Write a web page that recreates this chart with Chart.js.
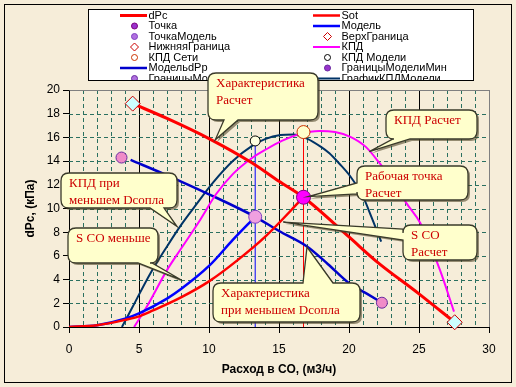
<!DOCTYPE html>
<html>
<head>
<meta charset="utf-8">
<script src="https://cdn.jsdelivr.net/npm/chart.js@4/dist/chart.umd.min.js"></script>
<style>
  html, body { margin: 0; padding: 0; background: #F6EDD9; }
  canvas { display: block; }
</style>
</head>
<body>
<canvas id="myChart" width="516" height="387"></canvas>
<script>
'use strict';

// dane
var dpcX = [4.55, 7, 10, 13, 15, 16.75, 20, 22, 25, 27.55];
var dpcY = [18.85, 17.6, 15.9, 13.9, 12.3, 10.95, 7.6, 5.5, 2.8, 0.4];

var sotX = [0, 2, 4, 5, 6, 8, 10, 12, 14, 16.75];
var sotY = [0, 0.15, 0.6, 0.9, 1.4, 2.5, 3.85, 5.6, 7.6, 10.95];

var modelX = [0, 2, 4, 5, 7, 8, 10, 11.7, 13.3];
var modelY = [0, 0.15, 0.7, 1.15, 2.4, 3.2, 5.15, 7.35, 9.3];

var modelDpX = [4.4, 7, 10, 13.3, 15, 17, 18.5, 20, 21.3, 22.35];
var modelDpY = [14.1, 12.8, 11.2, 9.3, 8.1, 6.8, 5.3, 3.7, 2.8, 2.05];

var kpdX = [4.65, 5.5, 7, 8, 9.4, 10.5, 11.7, 13, 14.1, 15.2, 16.5, 17.9, 19, 20.1, 21.2, 22.2, 23.2, 24.1, 25.1, 26.5, 27.5];
var kpdY = [0, 1.6, 4.8, 6.6, 9.1, 11.2, 12.9, 14.2, 15.0, 15.7, 16.3, 16.55, 16.45, 16.05, 15.2, 13.8, 12.2, 10.45, 8.75, 4.8, 1.3];

var kpdModelX = [3.78, 4.5, 5.8, 7, 8, 9, 10.3, 11.7, 13.1, 14, 15.1, 16, 17, 18, 18.6, 19.3, 20.1, 21, 21.6, 22.3];
var kpdModelY = [0, 1.6, 4.5, 6.8, 8.6, 10.2, 12.2, 14.0, 15.3, 15.85, 16.2, 16.25, 15.9, 15.2, 14.66, 13.8, 12.7, 11.0, 9.3, 7.2];

// punkty
var pointWork = [16.75, 10.95];
var pointModel = [13.3, 9.3];
var upperBound = [4.55, 18.85];
var lowerBound = [27.55, 0.4];
var kpdNet = [16.75, 16.45];
var kpdModelPoint = [13.3, 15.7];
var modelBoundMin = [3.75, 14.3];
var modelBoundMax = [22.35, 2.05];

// pionowe linie
var dropNetY = [0, 16.45];
var dropModelY = [0, 15.7];

var xTicks = [0, 5, 10, 15, 20, 25, 30];
var yTicks = [0, 2, 4, 6, 8, 10, 12, 14, 16, 18, 20];

// dymki z opisami
var callouts = [
  { lines: ['Характеристика', 'Расчет'], box: [208, 73, 318, 120], side: 'bottom', base: [224, 238], tip: [10.45, 15.8] },
  { lines: ['КПД Расчет'], box: [386, 110, 477, 139], side: 'bottom', base: [393, 410], tip: [21.45, 14.8] },
  { lines: ['Рабочая точка', 'Расчет'], box: [357, 166, 468, 200], side: 'left', base: [183, 194], tip: [17.1, 11.0] },
  { lines: ['S CO', 'Расчет'], box: [403, 225, 477, 260], side: 'left', base: [229, 240], tip: [15.3, 8.85] },
  { lines: ['КПД при', 'меньшем Dсопла'], box: [61, 173, 177, 208], side: 'bottom', base: [150, 164], tip: [7.7, 8.5] },
  { lines: ['S CO меньше'], box: [68, 228, 158, 263], side: 'bottom', base: [138, 152], tip: [8.05, 3.95] },
  { lines: ['Характеристика', 'при меньшем Dсопла'], box: [213, 283, 360, 322], side: 'top', base: [303, 333], tip: [17.0, 6.75] }
];

function xy(xs, ys) {
  return xs.map(function(x, i) { return { x: x, y: ys[i] }; });
}

function lineSet(label, xs, ys, color, width) {
  return {
    label: label, inLegend: true, showLine: true,
    data: xy(xs, ys),
    borderColor: color, backgroundColor: color, borderWidth: width,
    pointRadius: 0, cubicInterpolationMode: 'monotone', order: 2
  };
}
function pointSet(label, p, style, fill, edge, radius, legendFill) {
  return {
    label: label, inLegend: true, showLine: false, legendFill: legendFill,
    data: [{ x: p[0], y: p[1] }],
    pointStyle: style, pointRadius: radius, pointBackgroundColor: fill,
    pointBorderColor: edge, pointBorderWidth: 1,
    backgroundColor: fill, borderColor: edge,
    clip: false, order: 0
  };
}

var datasets = [
  lineSet('dPc', dpcX, dpcY, '#FF0000', 3),
  lineSet('Sot', sotX, sotY, '#FF0000', 2.5),
  pointSet('Точка', pointWork, 'circle', '#FF00FF', '#800080', 7, '#9933CC'),
  lineSet('Модель', modelX, modelY, '#0000FF', 2.5),
  pointSet('ТочкаМодель', pointModel, 'circle', '#F0A0E0', '#8040C0', 6.5, '#B070E0'),
  pointSet('ВерхГраница', upperBound, 'rectRot', '#CCFFFF', '#CC0000', 7.5, '#FFFFFF'),
  pointSet('НижняяГраница', lowerBound, 'rectRot', '#CCFFFF', '#CC0000', 7.5, '#FFFFFF'),
  lineSet('КПД', kpdX, kpdY, '#FF00FF', 2),
  pointSet('КПД Сети', kpdNet, 'circle', '#FFFFCC', '#CC3300', 6.5, '#FFFFFF'),
  pointSet('КПД Модели', kpdModelPoint, 'circle', '#FFFFE0', '#000000', 5, '#FFFFFF'),
  lineSet('МодельdPp', modelDpX, modelDpY, '#0000CC', 2.5),
  pointSet('ГраницыМоделиМин', modelBoundMin, 'circle', '#F08CC8', '#6A2CA0', 5.5, '#9933CC'),
  pointSet('ГраницыМоделиМакс', modelBoundMax, 'circle', '#F08CC8', '#6A2CA0', 5.5, '#B070E0'),
  lineSet('ГрафикКПДМодели', kpdModelX, kpdModelY, '#003366', 2)
];
// cienkie pionowe linie (bez legendy)
datasets.push({ label: 'dropNet', showLine: true, data: xy([16.75, 16.75], dropNetY), borderColor: '#FF0000', borderWidth: 1, pointRadius: 0, order: 3 });
datasets.push({ label: 'dropModel', showLine: true, data: xy([13.3, 13.3], dropModelY), borderColor: '#0000FF', borderWidth: 1, pointRadius: 0, order: 3 });

//legenda rysowana recznie w dwóch kolumnach
function drawLegendBox(chart) {
  var ctx = chart.ctx;
  ctx.save();
  ctx.fillStyle = '#FFFFFF';
  ctx.fillRect(88.5, 9.5, 385, 71);
  ctx.strokeStyle = '#000';
  ctx.lineWidth = 1;
  ctx.strokeRect(88.5, 9.5, 385, 71);
  ctx.beginPath();
  ctx.rect(89, 10, 384, 70);
  ctx.clip();
  ctx.font = '11px "Liberation Sans", Arial, sans-serif';
  ctx.textBaseline = 'middle';
  var items = chart.data.datasets.filter(function(d) { return d.inLegend; });
  items.forEach(function(ds, k) {
    var x = (k % 2 === 0) ? 120 : 313;
    var y = 15.5 + Math.floor(k / 2) * 10.5;
    if (ds.showLine) {
      ctx.strokeStyle = ds.borderColor;
      ctx.lineWidth = ds.borderWidth;
      ctx.beginPath();
      ctx.moveTo(x, y);
      ctx.lineTo(x + 27, y);
      ctx.stroke();
    } else {
      var cx = x + 14.5;
      ctx.fillStyle = ds.legendFill || ds.pointBackgroundColor;
      ctx.strokeStyle = ds.pointBorderColor;
      ctx.lineWidth = 1;
      ctx.beginPath();
      if (ds.pointStyle === 'rectRot') {
        ctx.moveTo(cx, y - 4); ctx.lineTo(cx + 4, y); ctx.lineTo(cx, y + 4); ctx.lineTo(cx - 4, y);
        ctx.closePath();
      } else {
        ctx.arc(cx, y, 3, 0, Math.PI * 2);
      }
      ctx.fill();
      ctx.stroke();
    }
    ctx.fillStyle = '#000';
    ctx.fillText(ds.label, x + 28.5, y);
  });
  ctx.restore();
}

function calloutPath(ctx, c, tx, ty) {
  var x0 = c.box[0], y0 = c.box[1], x1 = c.box[2], y1 = c.box[3], r = 8;
  ctx.beginPath();
  ctx.moveTo(x0 + r, y0);
  if (c.side === 'top') { ctx.lineTo(c.base[0], y0); ctx.lineTo(tx, ty); ctx.lineTo(c.base[1], y0); }
  ctx.lineTo(x1 - r, y0);
  ctx.quadraticCurveTo(x1, y0, x1, y0 + r);
  ctx.lineTo(x1, y1 - r);
  ctx.quadraticCurveTo(x1, y1, x1 - r, y1);
  if (c.side === 'bottom') { ctx.lineTo(c.base[1], y1); ctx.lineTo(tx, ty); ctx.lineTo(c.base[0], y1); }
  ctx.lineTo(x0 + r, y1);
  ctx.quadraticCurveTo(x0, y1, x0, y1 - r);
  if (c.side === 'left') { ctx.lineTo(x0, c.base[1]); ctx.lineTo(tx, ty); ctx.lineTo(x0, c.base[0]); }
  ctx.lineTo(x0, y0 + r);
  ctx.quadraticCurveTo(x0, y0, x0 + r, y0);
  ctx.closePath();
}

var chartDecor = {
  id: 'chartDecor',
  beforeDraw: function(chart) {
    var ctx = chart.ctx;
    ctx.save();
    ctx.fillStyle = '#F6EDD9';
    ctx.fillRect(0, 0, chart.width, chart.height);
    ctx.strokeStyle = '#000';
    ctx.lineWidth = 1;
    ctx.strokeRect(4.5, 4.5, 507, 378);
    ctx.restore();
    drawLegendBox(chart);
  },
  beforeDatasetsDraw: function(chart) {
    var ctx = chart.ctx, a = chart.chartArea;
    var xs = chart.scales.x, ys = chart.scales.y;
    ctx.save();
    ctx.strokeStyle = '#2A7060';
    ctx.lineWidth = 1;
    ctx.setLineDash([4, 3]);
    ctx.beginPath();
    for (var i = 1; i < 30; i++) {
      if (i % 5 === 0) continue;
      var px = Math.round(xs.getPixelForValue(i)) + 0.5;
      ctx.moveTo(px, a.top);
      ctx.lineTo(px, a.bottom);
    }
    for (var j = 1; j < yTicks.length - 1; j++) {
      var py = Math.round(ys.getPixelForValue(yTicks[j])) + 0.5;
      ctx.moveTo(a.left, py);
      ctx.lineTo(a.right, py);
    }
    ctx.stroke();
    ctx.setLineDash([]);
    ctx.strokeStyle = '#808080';
    ctx.beginPath();
    ctx.moveTo(Math.round(a.left) + 0.5, Math.round(a.top) + 0.5);
    ctx.lineTo(Math.round(a.right) + 0.5, Math.round(a.top) + 0.5);
    ctx.lineTo(Math.round(a.right) + 0.5, Math.round(a.bottom));
    ctx.stroke();
    ctx.restore();
  },
  afterDraw: function(chart) {
    var ctx = chart.ctx;
    var xs = chart.scales.x, ys = chart.scales.y;
    callouts.forEach(function(c) {
      var tx = xs.getPixelForValue(c.tip[0]);
      var ty = ys.getPixelForValue(c.tip[1]);
      ctx.save();
      calloutPath(ctx, c, tx, ty);
      ctx.shadowColor = 'rgba(70, 60, 30, 0.55)';
      ctx.shadowOffsetX = 2;
      ctx.shadowOffsetY = 2;
      ctx.fillStyle = '#FFFFCC';
      ctx.fill();
      ctx.shadowColor = 'transparent';
      ctx.strokeStyle = '#3A3A2A';
      ctx.lineWidth = 1.3;
      ctx.stroke();
      ctx.fillStyle = '#CC0000';
      ctx.font = '13px "Liberation Serif", "Times New Roman", serif';
      ctx.textBaseline = 'middle';
      c.lines.forEach(function(t, i) {
        ctx.fillText(t, c.box[0] + 8, c.box[1] + 11 + i * 16.5);
      });
      ctx.restore();
    });
  }
};

var ctx = document.getElementById('myChart').getContext('2d');
var chart = new Chart(ctx, {
  type: 'scatter',
  data: { datasets: datasets },
  plugins: [chartDecor],
  options: {
    responsive: false,
    animation: false,
    layout: { padding: { top: 90, right: 27, left: 0, bottom: 0 } },
    plugins: { legend: { display: false }, tooltip: { enabled: false } },
    scales: {
      x: {
        type: 'linear', min: 0, max: 30,
        afterFit: function(s) { s.height = 60; },
        afterBuildTicks: function(s) { s.ticks = xTicks.map(function(v) { return { value: v }; }); },
        ticks: { color: '#000', padding: 9, font: { family: '"Liberation Sans", Arial, sans-serif', size: 12 } },
        grid: {
          color: function(c) { return c.tick && c.tick.value === 30 ? '#808080' : '#000'; },
          lineWidth: 1, tickLength: 6, tickColor: '#000'
        },
        border: { color: '#000', width: 1 },
        title: {
          display: true, text: 'Расход в СО, (м3/ч)', color: '#000',
          padding: { top: 0, bottom: 10 },
          font: { family: '"Liberation Sans", Arial, sans-serif', size: 12, weight: 'bold' }
        }
      },
      y: {
        type: 'linear', min: 0, max: 20,
        afterFit: function(s) { s.width = 69; },
        afterBuildTicks: function(s) { s.ticks = yTicks.map(function(v) { return { value: v }; }); },
        ticks: { color: '#000', padding: 3, font: { family: '"Liberation Sans", Arial, sans-serif', size: 12 } },
        grid: { drawOnChartArea: false, tickLength: 6, tickColor: '#000' },
        border: { color: '#000', width: 1 },
        title: {
          display: true, text: 'dPc, (кПа)', color: '#000',
          padding: { top: 23, bottom: 0 },
          font: { family: '"Liberation Sans", Arial, sans-serif', size: 12, weight: 'bold' }
        }
      }
    }
  }
});
</script>
</body>
</html>
